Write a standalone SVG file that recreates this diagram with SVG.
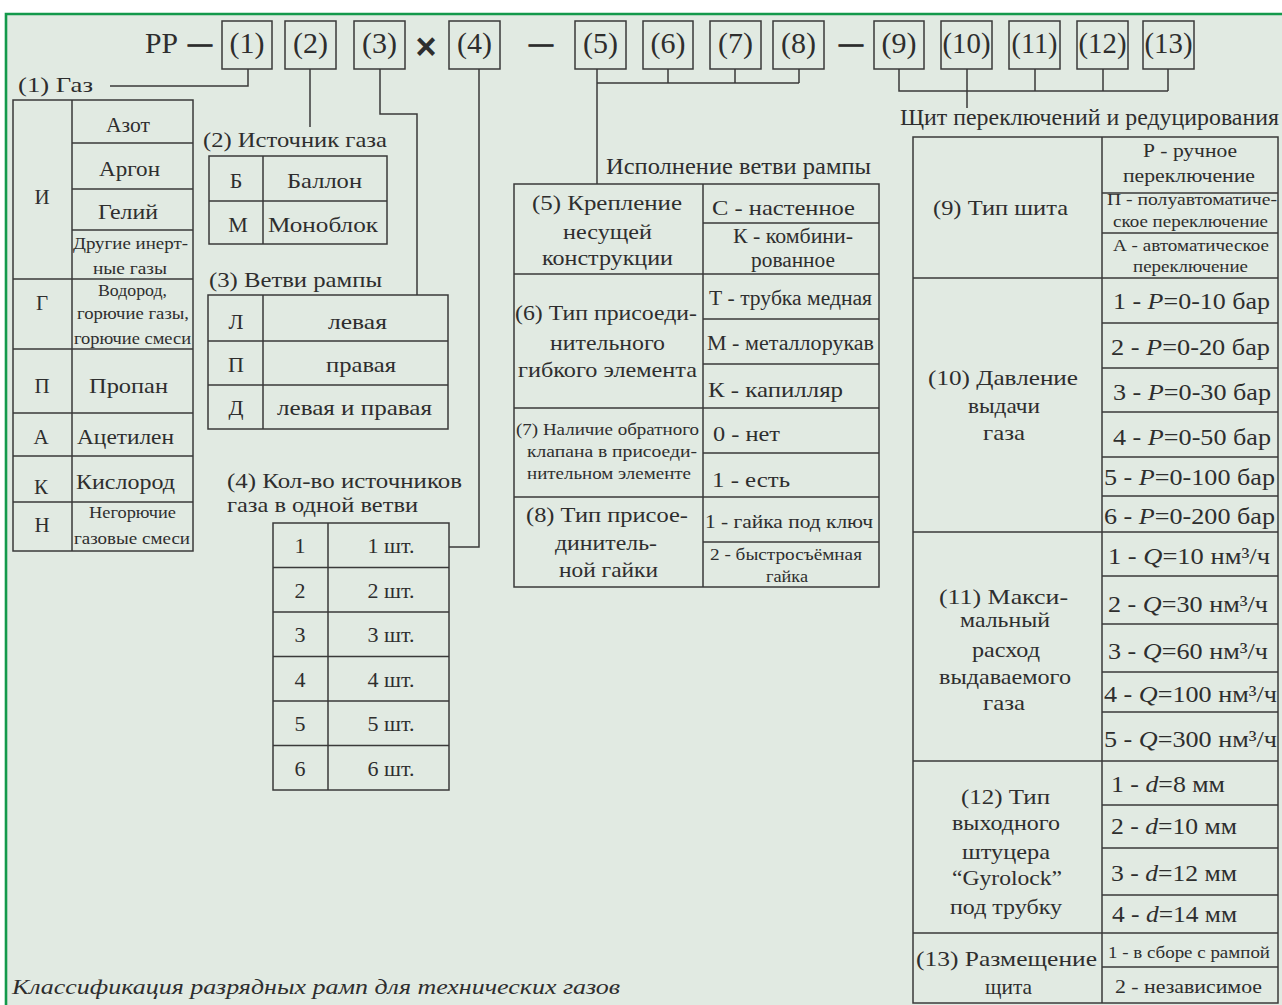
<svg xmlns="http://www.w3.org/2000/svg" width="1282" height="1005" viewBox="0 0 1282 1005">
<defs>
<style>
svg{font-family:"Liberation Serif","Times New Roman",serif;font-size:22px}
text{fill:#2e2e2e}
.f,.c{fill:none;stroke:#3a3a3a;stroke-width:1.5}
.h{font-size:30px;text-anchor:middle}
.hs{font-size:30px}
.mid{text-anchor:middle}
.s15{font-size:16px}.s16{font-size:17px}.s17{font-size:17px}.s19{font-size:19px}.s20{font-size:20px}.s21{font-size:21px}.s23{font-size:23px}
.i{font-style:italic}
</style>
</defs>
<rect width="1282" height="1005" fill="#ffffff"/>
<rect x="6" y="14" width="1276" height="991" fill="#E1EAE2"/>
<path d="M6,1005 V14 H1282" fill="none" stroke="#13994B" stroke-width="2.6"/>

<g id="header">
<text x="145" y="53" class="hs" textLength="33" lengthAdjust="spacingAndGlyphs">РР</text>
<text x="200" y="53" class="h" stroke="#2b2b2b" stroke-width="1" textLength="24" lengthAdjust="spacingAndGlyphs">—</text>
<text x="426" y="59" style="font-family:'Liberation Sans',Arial,sans-serif;font-size:36px;font-weight:bold;text-anchor:middle">×</text>
<text x="541" y="53" class="h" stroke="#2b2b2b" stroke-width="1" textLength="24" lengthAdjust="spacingAndGlyphs">—</text>
<text x="851" y="53" class="h" stroke="#2b2b2b" stroke-width="1" textLength="24" lengthAdjust="spacingAndGlyphs">—</text>
</g>

<g id="box1"><rect x="222" y="21" width="50" height="48" class="f"/><text x="247" y="53" class="h">(1)</text></g>
<g id="box2"><rect x="285" y="21" width="51" height="48" class="f"/><text x="310.5" y="53" class="h">(2)</text></g>
<g id="box3"><rect x="354" y="21" width="51" height="48" class="f"/><text x="379.5" y="53" class="h">(3)</text></g>
<g id="box4"><rect x="449" y="21" width="51" height="48" class="f"/><text x="474.5" y="53" class="h">(4)</text></g>
<g id="box5"><rect x="575" y="21" width="51" height="48" class="f"/><text x="600.5" y="53" class="h">(5)</text></g>
<g id="box6"><rect x="643" y="21" width="50" height="48" class="f"/><text x="668" y="53" class="h">(6)</text></g>
<g id="box7"><rect x="710" y="21" width="51" height="48" class="f"/><text x="735.5" y="53" class="h">(7)</text></g>
<g id="box8"><rect x="773" y="21" width="51" height="48" class="f"/><text x="798.5" y="53" class="h">(8)</text></g>
<g id="box9"><rect x="874" y="21" width="50" height="48" class="f"/><text x="899" y="53" class="h">(9)</text></g>
<g id="box10"><rect x="941" y="21" width="51" height="48" class="f"/><text x="966.5" y="53" class="h" textLength="48" lengthAdjust="spacingAndGlyphs">(10)</text></g>
<g id="box11"><rect x="1009" y="21" width="51" height="48" class="f"/><text x="1034.5" y="53" class="h" textLength="46" lengthAdjust="spacingAndGlyphs">(11)</text></g>
<g id="box12"><rect x="1077" y="21" width="51" height="48" class="f"/><text x="1102.5" y="53" class="h" textLength="48" lengthAdjust="spacingAndGlyphs">(12)</text></g>
<g id="box13"><rect x="1143" y="21" width="51" height="48" class="f"/><text x="1168.5" y="53" class="h" textLength="48" lengthAdjust="spacingAndGlyphs">(13)</text></g>

<g id="connectors" class="c">
<path d="M248,69 V86 H110"/>
<path d="M310,69 V127"/>
<path d="M380,69 V114 H417 V295"/>
<path d="M479,69 V547 H449"/>
<path d="M597,69 V184"/>
<path d="M597,83 H799 M668,69 V83 M735,69 V83 M799,69 V83"/>
<path d="M899,69 V91 H1168 M967,69 V108 M1035,69 V91 M1103,69 V91 M1168,69 V91"/>
</g>

<g id="t1">
<text x="18" y="92" textLength="75" lengthAdjust="spacingAndGlyphs">(1) Газ</text>
<rect x="13" y="100" width="180" height="451" class="f"/>
<path class="f" d="M72,100 V551 M72,143 H193 M72,189 H193 M72,230 H193 M13,279 H193 M13,349 H193 M13,413 H193 M13,456 H193 M13,502 H193"/>
<g class="s21">
<text x="42" y="204" class="mid">И</text>
<text x="106" y="132" textLength="44" lengthAdjust="spacingAndGlyphs">Азот</text>
<text x="99" y="176" textLength="61" lengthAdjust="spacingAndGlyphs">Аргон</text>
<text x="98" y="219" textLength="60" lengthAdjust="spacingAndGlyphs">Гелий</text>
<text x="42" y="310" class="mid">Г</text>
<text x="42" y="393" class="mid">П</text>
<text x="89" y="393" textLength="79" lengthAdjust="spacingAndGlyphs">Пропан</text>
<text x="41" y="444" class="mid">А</text>
<text x="77" y="444" textLength="97" lengthAdjust="spacingAndGlyphs">Ацетилен</text>
<text x="41" y="494" class="mid">К</text>
<text x="76" y="489" textLength="99" lengthAdjust="spacingAndGlyphs">Кислород</text>
<text x="42" y="532" class="mid">Н</text>
</g>
<g class="s16">
<text x="73" y="249" textLength="115" lengthAdjust="spacingAndGlyphs">Другие инерт-</text>
<text x="93" y="274" textLength="74" lengthAdjust="spacingAndGlyphs">ные газы</text>
<text x="98" y="296" textLength="69" lengthAdjust="spacingAndGlyphs">Водород,</text>
<text x="77" y="319" textLength="112" lengthAdjust="spacingAndGlyphs">горючие газы,</text>
<text x="74" y="344" textLength="117" lengthAdjust="spacingAndGlyphs">горючие смеси</text>
<text x="89" y="518" textLength="87" lengthAdjust="spacingAndGlyphs">Негорючие</text>
<text x="74" y="544" textLength="116" lengthAdjust="spacingAndGlyphs">газовые смеси</text>
</g>
</g>

<g id="t2">
<text x="203" y="147" textLength="184" lengthAdjust="spacingAndGlyphs">(2) Источник газа</text>
<rect x="209" y="156" width="178" height="88" class="f"/>
<path class="f" d="M263,156 V244 M209,201 H387"/>
<text x="236" y="188" class="mid">Б</text>
<text x="287" y="188" textLength="75" lengthAdjust="spacingAndGlyphs">Баллон</text>
<text x="238" y="232" class="mid">М</text>
<text x="268" y="232" textLength="110" lengthAdjust="spacingAndGlyphs">Моноблок</text>
</g>

<g id="t3">
<text x="209" y="287" textLength="173" lengthAdjust="spacingAndGlyphs">(3) Ветви рампы</text>
<rect x="208" y="295" width="240" height="134" class="f"/>
<path class="f" d="M263,295 V429 M208,341 H448 M208,385 H448"/>
<text x="236" y="329" class="mid">Л</text>
<text x="328" y="329" textLength="59" lengthAdjust="spacingAndGlyphs">левая</text>
<text x="236" y="372" class="mid">П</text>
<text x="326" y="372" textLength="70" lengthAdjust="spacingAndGlyphs">правая</text>
<text x="236" y="415" class="mid">Д</text>
<text x="277" y="415" textLength="155" lengthAdjust="spacingAndGlyphs">левая и правая</text>
</g>

<g id="t4">
<text x="227" y="488" textLength="235" lengthAdjust="spacingAndGlyphs">(4) Кол-во источников</text>
<text x="227" y="512" textLength="191" lengthAdjust="spacingAndGlyphs">газа в одной ветви</text>
<rect x="273" y="523" width="176" height="267" class="f"/>
<path class="f" d="M328,523 V790 M273,567.5 H449 M273,612 H449 M273,656.5 H449 M273,701 H449 M273,745.5 H449"/>
<g class="mid">
<text x="300" y="553">1</text><text x="391" y="553">1 шт.</text>
<text x="300" y="598">2</text><text x="391" y="598">2 шт.</text>
<text x="300" y="642">3</text><text x="391" y="642">3 шт.</text>
<text x="300" y="687">4</text><text x="391" y="687">4 шт.</text>
<text x="300" y="731">5</text><text x="391" y="731">5 шт.</text>
<text x="300" y="776">6</text><text x="391" y="776">6 шт.</text>
</g>
</g>

<g id="t5-8">
<text x="606" y="174" class="s23" textLength="265" lengthAdjust="spacingAndGlyphs">Исполнение ветви рампы</text>
<rect x="514" y="184" width="365" height="403" class="f"/>
<path class="f" d="M703,184 V587 M703,223 H879 M514,274 H879 M703,319 H879 M703,364 H879 M514,408 H879 M703,453 H879 M514,497 H879 M703,542 H879"/>
<text x="532" y="210" textLength="150" lengthAdjust="spacingAndGlyphs">(5) Крепление</text>
<text x="563" y="239" textLength="89" lengthAdjust="spacingAndGlyphs">несущей</text>
<text x="542" y="265" textLength="131" lengthAdjust="spacingAndGlyphs">конструкции</text>
<text x="712" y="215" textLength="143" lengthAdjust="spacingAndGlyphs">С - настенное</text>
<text x="733" y="243" class="s20" textLength="120" lengthAdjust="spacingAndGlyphs">К - комбини-</text>
<text x="751" y="267" class="s20" textLength="84" lengthAdjust="spacingAndGlyphs">рованное</text>
<text x="515" y="320" textLength="182" lengthAdjust="spacingAndGlyphs">(6) Тип присоеди-</text>
<text x="550" y="350" textLength="115" lengthAdjust="spacingAndGlyphs">нительного</text>
<text x="518" y="377" textLength="179" lengthAdjust="spacingAndGlyphs">гибкого элемента</text>
<text x="709" y="305" class="s20" textLength="163" lengthAdjust="spacingAndGlyphs">Т - трубка медная</text>
<text x="707" y="350" class="s20" textLength="167" lengthAdjust="spacingAndGlyphs">М - металлорукав</text>
<text x="708" y="397" textLength="135" lengthAdjust="spacingAndGlyphs">К - капилляр</text>
<g class="s17">
<text x="516" y="435" textLength="183" lengthAdjust="spacingAndGlyphs">(7) Наличие обратного</text>
<text x="527" y="457" textLength="170" lengthAdjust="spacingAndGlyphs">клапана в присоеди-</text>
<text x="527" y="479" textLength="164" lengthAdjust="spacingAndGlyphs">нительном элементе</text>
</g>
<text x="713" y="441" textLength="67" lengthAdjust="spacingAndGlyphs">0 - нет</text>
<text x="712" y="487" textLength="78" lengthAdjust="spacingAndGlyphs">1 - есть</text>
<text x="526" y="522" textLength="162" lengthAdjust="spacingAndGlyphs">(8) Тип присое-</text>
<text x="555" y="550" textLength="102" lengthAdjust="spacingAndGlyphs">динитель-</text>
<text x="559" y="577" textLength="99" lengthAdjust="spacingAndGlyphs">ной гайки</text>
<text x="705" y="528" class="s19" textLength="168" lengthAdjust="spacingAndGlyphs">1 - гайка под ключ</text>
<text x="710" y="560" class="s16" textLength="152" lengthAdjust="spacingAndGlyphs">2 - быстросъёмная</text>
<text x="766" y="582" class="s16" textLength="42" lengthAdjust="spacingAndGlyphs">гайка</text>
</g>

<g id="t9-13">
<text x="900" y="125" class="s23" textLength="379" lengthAdjust="spacingAndGlyphs">Щит переключений и редуцирования</text>
<rect x="913" y="137" width="365" height="866" class="f"/>
<path class="f" d="M1102,137 V1003 M1102,193 H1278 M1102,233 H1278 M913,278 H1278 M1102,323 H1278 M1102,368 H1278 M1102,412 H1278 M1102,457 H1278 M1102,496 H1278 M913,532 H1278 M1102,576 H1278 M1102,624 H1278 M1102,672 H1278 M1102,712 H1278 M913,761 H1278 M1102,805 H1278 M1102,848 H1278 M1102,895 H1278 M913,933 H1278 M1102,967 H1278"/>
<text x="933" y="215" textLength="135" lengthAdjust="spacingAndGlyphs">(9) Тип шита</text>
<text x="1143" y="157" class="s19" textLength="94" lengthAdjust="spacingAndGlyphs">Р - ручное</text>
<text x="1123" y="182" class="s19" textLength="132" lengthAdjust="spacingAndGlyphs">переключение</text>
<text x="1107" y="205" class="s15" textLength="170" lengthAdjust="spacingAndGlyphs">П - полуавтоматиче-</text>
<text x="1113" y="227" class="s15" textLength="155" lengthAdjust="spacingAndGlyphs">ское переключение</text>
<text x="1113" y="251" class="s15" textLength="156" lengthAdjust="spacingAndGlyphs">А - автоматическое</text>
<text x="1133" y="272" class="s15" textLength="115" lengthAdjust="spacingAndGlyphs">переключение</text>

<text x="928" y="385" textLength="150" lengthAdjust="spacingAndGlyphs">(10) Давление</text>
<text x="968" y="413" textLength="72" lengthAdjust="spacingAndGlyphs">выдачи</text>
<text x="983" y="440" textLength="42" lengthAdjust="spacingAndGlyphs">газа</text>
<g class="s23">
<text x="1113" y="309" textLength="157" lengthAdjust="spacingAndGlyphs">1 - <tspan class="i">P</tspan>=0-10 бар</text>
<text x="1111" y="355" textLength="159" lengthAdjust="spacingAndGlyphs">2 - <tspan class="i">P</tspan>=0-20 бар</text>
<text x="1113" y="400" textLength="158" lengthAdjust="spacingAndGlyphs">3 - <tspan class="i">P</tspan>=0-30 бар</text>
<text x="1113" y="445" textLength="158" lengthAdjust="spacingAndGlyphs">4 - <tspan class="i">P</tspan>=0-50 бар</text>
<text x="1104" y="485" textLength="171" lengthAdjust="spacingAndGlyphs">5 - <tspan class="i">P</tspan>=0-100 бар</text>
<text x="1104" y="524" textLength="171" lengthAdjust="spacingAndGlyphs">6 - <tspan class="i">P</tspan>=0-200 бар</text>
<text x="1108" y="564" textLength="162" lengthAdjust="spacingAndGlyphs">1 - <tspan class="i">Q</tspan>=10 нм³/ч</text>
<text x="1108" y="612" textLength="160" lengthAdjust="spacingAndGlyphs">2 - <tspan class="i">Q</tspan>=30 нм³/ч</text>
<text x="1108" y="659" textLength="160" lengthAdjust="spacingAndGlyphs">3 - <tspan class="i">Q</tspan>=60 нм³/ч</text>
<text x="1104" y="702" textLength="173" lengthAdjust="spacingAndGlyphs">4 - <tspan class="i">Q</tspan>=100 нм³/ч</text>
<text x="1104" y="747" textLength="173" lengthAdjust="spacingAndGlyphs">5 - <tspan class="i">Q</tspan>=300 нм³/ч</text>
<text x="1111" y="792" textLength="114" lengthAdjust="spacingAndGlyphs">1 - <tspan class="i">d</tspan>=8 мм</text>
<text x="1111" y="834" textLength="126" lengthAdjust="spacingAndGlyphs">2 - <tspan class="i">d</tspan>=10 мм</text>
<text x="1111" y="881" textLength="126" lengthAdjust="spacingAndGlyphs">3 - <tspan class="i">d</tspan>=12 мм</text>
<text x="1112" y="922" textLength="125" lengthAdjust="spacingAndGlyphs">4 - <tspan class="i">d</tspan>=14 мм</text>
</g>
<text x="939" y="604" textLength="129" lengthAdjust="spacingAndGlyphs">(11) Макси-</text>
<text x="960" y="627" textLength="90" lengthAdjust="spacingAndGlyphs">мальный</text>
<text x="972" y="657" textLength="68" lengthAdjust="spacingAndGlyphs">расход</text>
<text x="939" y="684" textLength="132" lengthAdjust="spacingAndGlyphs">выдаваемого</text>
<text x="983" y="710" textLength="42" lengthAdjust="spacingAndGlyphs">газа</text>
<text x="961" y="804" textLength="89" lengthAdjust="spacingAndGlyphs">(12) Тип</text>
<text x="952" y="830" textLength="108" lengthAdjust="spacingAndGlyphs">выходного</text>
<text x="962" y="859" textLength="88" lengthAdjust="spacingAndGlyphs">штуцера</text>
<text x="952" y="885" textLength="110" lengthAdjust="spacingAndGlyphs">“Gyrolock”</text>
<text x="950" y="914" textLength="112" lengthAdjust="spacingAndGlyphs">под трубку</text>
<text x="916" y="966" textLength="181" lengthAdjust="spacingAndGlyphs">(13) Размещение</text>
<text x="985" y="994" textLength="47" lengthAdjust="spacingAndGlyphs">щита</text>
<text x="1108" y="958" class="s16" textLength="162" lengthAdjust="spacingAndGlyphs">1 - в сборе с рампой</text>
<text x="1115" y="993" class="s19" textLength="147" lengthAdjust="spacingAndGlyphs">2 - независимое</text>
</g>

<text x="12" y="994" class="i" textLength="608" lengthAdjust="spacingAndGlyphs">Классификация разрядных рамп для технических газов</text>
</svg>
